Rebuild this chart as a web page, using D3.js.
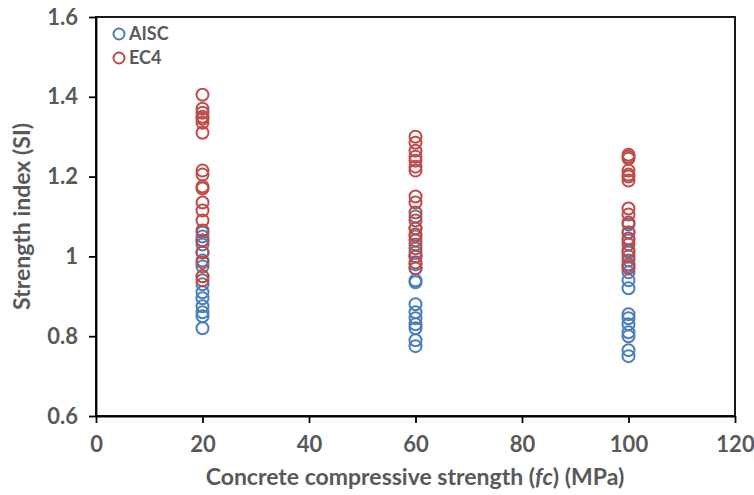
<!DOCTYPE html>
<html><head><meta charset="utf-8">
<script src="https://cdn.jsdelivr.net/npm/d3@7"></script>
<style>body{margin:0;background:#fff}svg{display:block}</style>
</head><body>
<svg id="chart" width="754" height="495"></svg>
<script>
const xTicks = [0, 20, 40, 60, 80, 100, 120];
const yTicks = [0.6, 0.8, 1.0, 1.2, 1.4, 1.6];
const seriesNames = ["AISC", "EC4"];
const seriesColors = ["#4A7EBB", "#BE4B48"];

const aiscX20 = [1.06, 1.05, 1.04, 1.03, 1.01, 0.99, 0.975, 0.95, 0.93, 0.91, 0.895, 0.875, 0.86, 0.85, 0.82];
const aiscX60 = [1.10, 1.07, 1.05, 1.03, 1.01, 1.0, 0.98, 0.97, 0.94, 0.935, 0.88, 0.86, 0.845, 0.83, 0.82, 0.79, 0.775];
const aiscX100 = [1.08, 1.06, 1.04, 1.01, 0.99, 0.975, 0.96, 0.94, 0.92, 0.855, 0.845, 0.83, 0.81, 0.80, 0.765, 0.75];

const ec4X20 = [1.405, 1.37, 1.36, 1.35, 1.345, 1.335, 1.31, 1.215, 1.205, 1.175, 1.17, 1.135, 1.115, 1.09, 1.065, 1.04, 1.01, 0.985, 0.95, 0.94];
const ec4X60 = [1.30, 1.285, 1.265, 1.25, 1.24, 1.225, 1.215, 1.15, 1.135, 1.11, 1.09, 1.07, 1.055, 1.04, 1.02, 1.0, 0.985, 0.97];
const ec4X100 = [1.255, 1.25, 1.245, 1.215, 1.205, 1.20, 1.19, 1.12, 1.105, 1.085, 1.06, 1.045, 1.03, 1.015, 1.0, 0.98, 0.97];

const aisc = [[20, aiscX20], [60, aiscX60], [100, aiscX100]];
const ec4 = [[20, ec4X20], [60, ec4X60], [100, ec4X100]];

const flatten = groups => groups.flatMap(([x, ys]) => ys.map(y => ({x, y})));
const series = [flatten(aisc), flatten(ec4)];

const svg = d3.select("#chart");
const mLeft = 96, mRight = 735, mTop = 17, mBottom = 416;
const x = d3.scaleLinear().domain([0, 120]).range([mLeft, mRight]);
const y = d3.scaleLinear().domain([0.6, 1.6]).range([mBottom, mTop]);

const font = "Lato, 'Open Sans', sans-serif";
const textColor = "#595959";

// frame
svg.append("rect").attr("x", mLeft).attr("y", mTop).attr("width", mRight - mLeft).attr("height", mBottom - mTop)
  .attr("fill", "none").attr("stroke", "#000").attr("stroke-width", 1.8);

const xAxis = svg.append("g").attr("transform", `translate(0,${mBottom})`)
  .call(d3.axisBottom(x).tickValues(xTicks).tickSize(7).tickSizeOuter(0).tickPadding(13).tickFormat(d3.format("d")));
const yAxis = svg.append("g").attr("transform", `translate(${mLeft},0)`)
  .call(d3.axisLeft(y).tickValues(yTicks).tickSize(7).tickSizeOuter(0).tickPadding(11).tickFormat(d => d === 1 ? "1" : d3.format(".1f")(d)));
[xAxis, yAxis].forEach(a => {
  a.select(".domain").attr("stroke", "#000").attr("stroke-width", 1.8);
  a.selectAll(".tick line").attr("stroke", "#000").attr("stroke-width", 1.8);
  a.selectAll(".tick text").attr("fill", textColor).style("font-family", font)
    .style("font-size", "22px").style("font-weight", "bold");
});

// points
series.forEach((pts, i) => {
  svg.append("g").selectAll("circle").data(pts).join("circle")
    .attr("cx", d => x(d.x)).attr("cy", d => y(d.y)).attr("r", 6)
    .attr("fill", "none").attr("stroke", seriesColors[i]).attr("stroke-width", 2);
});

// axis titles
svg.append("text").attr("x", 415).attr("y", 485).attr("text-anchor", "middle")
  .attr("fill", textColor).style("font-family", font).style("font-size", "23px").style("font-weight", "bold")
  .html('Concrete compressive strength (<tspan font-style="italic">fc</tspan>) (MPa)');
svg.append("text").attr("transform", `translate(30,${(mTop + mBottom) / 2}) rotate(-90)`).attr("text-anchor", "middle")
  .attr("fill", textColor).style("font-family", font).style("font-size", "23px").style("font-weight", "bold")
  .text("Strength index (SI)");

// legend
seriesNames.forEach((name, i) => {
  const ly = 34 + i * 24;
  svg.append("circle").attr("cx", 119).attr("cy", ly).attr("r", 5.5)
    .attr("fill", "none").attr("stroke", seriesColors[i]).attr("stroke-width", 2);
  svg.append("text").attr("x", 129).attr("y", ly + 6).attr("fill", textColor)
    .style("font-family", font).style("font-size", "18px").style("font-weight", "bold").text(name);
});
</script>
</body></html>
